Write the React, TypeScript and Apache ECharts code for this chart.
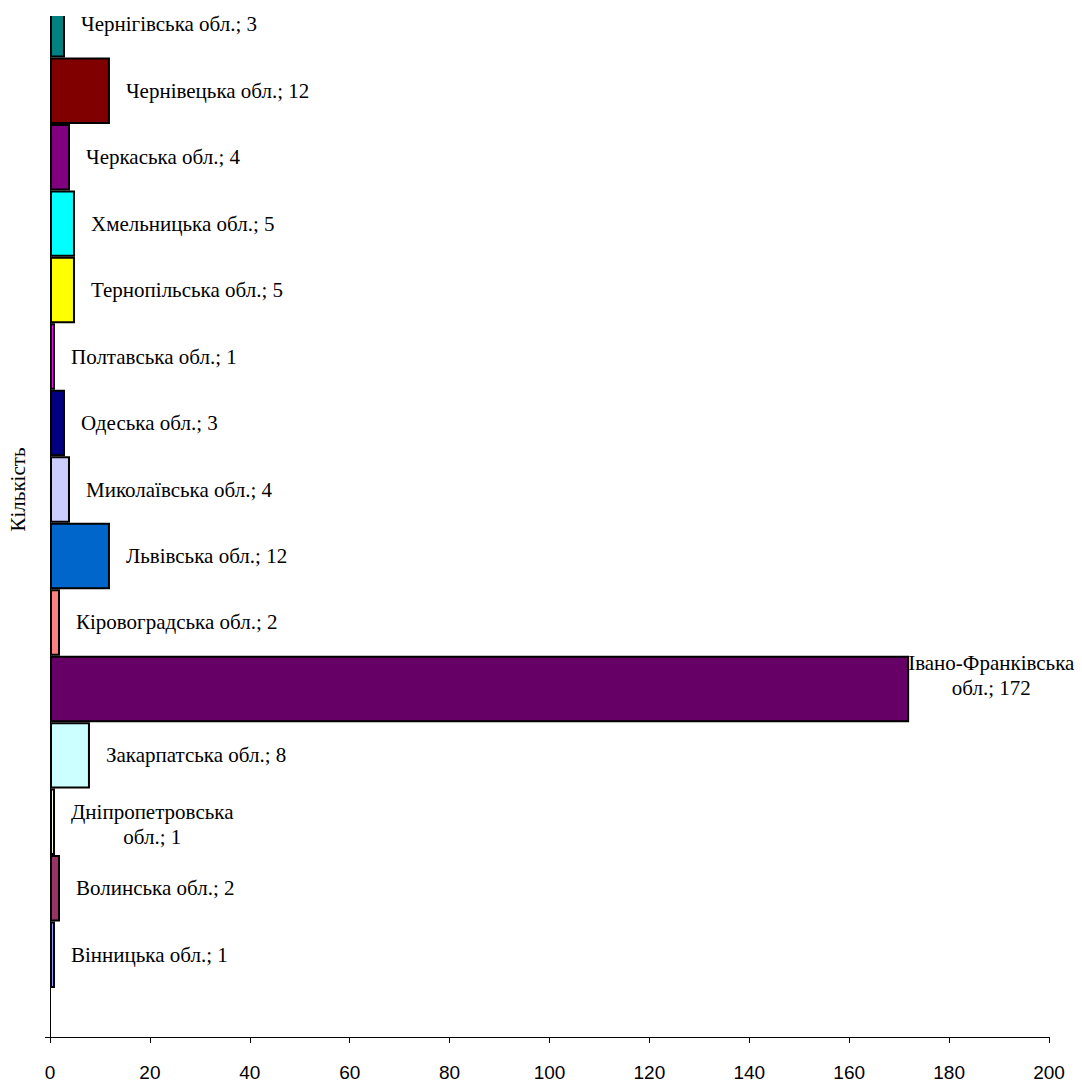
import React, { useEffect, useRef } from 'react';
import * as echarts from 'echarts';

// Regions in order from bottom to top of the chart
const regions = [
  'Вінницька обл.',
  'Волинська обл.',
  'Дніпропетровська обл.',
  'Закарпатська обл.',
  'Івано-Франківська обл.',
  'Кіровоградська обл.',
  'Львівська обл.',
  'Миколаївська обл.',
  'Одеська обл.',
  'Полтавська обл.',
  'Тернопільська обл.',
  'Хмельницька обл.',
  'Черкаська обл.',
  'Чернівецька обл.',
  'Чернігівська обл.',
];
const counts = [1, 2, 1, 8, 172, 2, 12, 4, 3, 1, 5, 5, 4, 12, 3];
const colors = [
  '#9999FF', '#993366', '#FFFFCC', '#CCFFFF', '#660066',
  '#FF8080', '#0066CC', '#CCCCFF', '#000080', '#FF00FF',
  '#FFFF00', '#00FFFF', '#800080', '#800000', '#008080',
];
const wrappedLabels = ['Дніпропетровська обл.', 'Івано-Франківська обл.'];
const axisName = 'Кількість';
const xMin = 0;
const xMax = 200;
const xStep = 20;

export default function App() {
  const ref = useRef<HTMLDivElement>(null);
  useEffect(() => {
    if (!ref.current) return;
    const chart = echarts.init(ref.current, undefined, { renderer: 'svg' });
    const FS = 21;
    const series = regions.map((name, i) => {
      const wrapped = wrappedLabels.includes(name);
      const isBig = name === 'Івано-Франківська обл.';
      const label: any = {
        show: true,
        position: 'right',
        distance: isBig ? 0 : 16,
        offset: isBig ? [-1, -13] : wrapped ? [0, 3] : [0, 0],
        fontFamily: 'Liberation Serif',
        fontSize: FS,
        color: '#000',
        lineHeight: 25,
      };
      if (wrapped) {
        const sp = name.indexOf(' ');
        const first = name.slice(0, sp);
        const rest = name.slice(sp + 1);
        label.formatter = `{l|${first}}\n{c|${rest}; ${counts[i]}}`;
        label.rich = {
          l: { fontFamily: 'Liberation Serif', fontSize: FS, color: '#000', lineHeight: 25 },
          c: { fontFamily: 'Liberation Serif', fontSize: FS, color: '#000', lineHeight: 25, align: 'center' },
        };
      } else {
        label.formatter = `${name}; ${counts[i]}`;
      }
      return {
        type: 'bar',
        name,
        data: [counts[i]],
        barGap: '0%',
        barCategoryGap: '8.95%',
        itemStyle: { color: colors[i], borderColor: '#000', borderWidth: 2 },
        label,
      };
    }).reverse(); // ECharts puts the first series at the top of the band
    chart.setOption({
      animation: false,
      backgroundColor: '#fff',
      grid: { left: 50, right: 33, top: -58, bottom: 45, containLabel: false, outerBoundsMode: 'none' },
      xAxis: {
        type: 'value',
        min: xMin,
        max: xMax,
        interval: xStep,
        splitLine: { show: false },
        axisLine: { show: true, lineStyle: { color: '#000', width: 1 } },
        axisTick: { show: true, length: 6, lineStyle: { color: '#000' } },
        axisLabel: { color: '#000', fontFamily: 'Liberation Sans', fontSize: 19, margin: 26 },
      },
      yAxis: {
        type: 'category',
        data: [''],
        name: axisName,
        nameLocation: 'middle',
        nameGap: 22,
        nameTextStyle: { fontFamily: 'Liberation Serif', fontSize: FS, color: '#000' },
        axisLine: { show: true, lineStyle: { color: '#000', width: 1 } },
        axisTick: { show: true, length: 5, lineStyle: { color: '#000' } },
        axisLabel: { show: false },
      },
      graphic: [
        { type: 'rect', shape: { x: 40, y: 0, width: 40, height: 16 }, style: { fill: '#fff' }, z: 10, silent: true },
      ],
      series,
    });
    return () => chart.dispose();
  }, []);
  return (
    <div
      ref={ref}
      style={{ position: 'fixed', left: 0, top: 0, width: 1082, height: 1082 }}
    />
  );
}
